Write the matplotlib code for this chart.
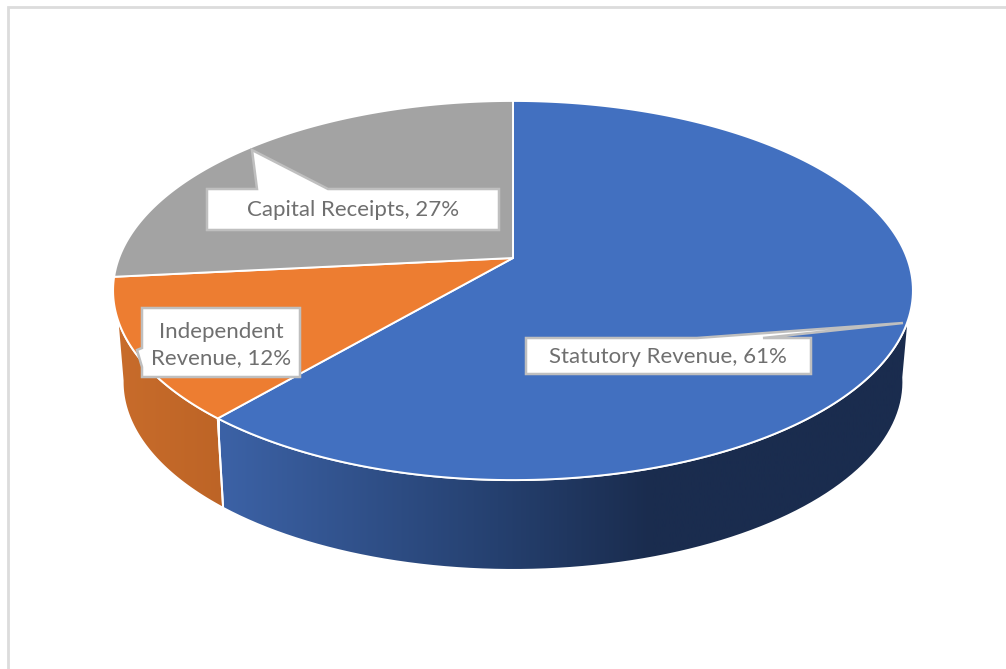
import matplotlib
matplotlib.use('Agg')
import matplotlib.pyplot as plt
import numpy as np
from matplotlib.colors import LinearSegmentedColormap
from matplotlib.patches import Polygon

categories = ['Statutory Revenue', 'Independent\nRevenue', 'Capital Receipts']
values = [61.3, 12.1, 26.6]
colors = ['#4270c0', '#ed7d31', '#a3a3a3']

# projection of the pie disc, pixels
TOP = dict(x0=513, y0=258, a=394, k=184, p=0.1715)
BOT = dict(x0=513, y0=348, a=384, k=182, p=0.18)


def rim(theta, d):
    # theta in degrees, clockwise from 12 o'clock
    t = np.radians(theta)
    u = np.sin(t)
    v = -np.cos(t)
    w = 1 - d['p'] * v
    return np.column_stack((d['x0'] + d['a'] * u / w, d['y0'] + d['k'] * v / w))


fig = plt.figure(figsize=(10.06, 6.69), dpi=100)
ax = fig.add_axes([0, 0, 1, 1])
ax.set_xlim(0, 1006)
ax.set_ylim(669, 0)
ax.axis('off')

# frame of the screenshot
ax.plot([8, 8, 1006], [669, 7, 7], color='#dcdcdc', lw=2.0, solid_joinstyle='miter')

edges = np.concatenate(([0], np.cumsum(values))) * 3.6
blue_end = edges[1]

# side walls, top rim and bottom rim have different silhouette angles
wall_top = (108, 252)
wall_bot = (99, 260)


def wall(t0, t1, b0, b1, cols, xr):
    pts = np.vstack((rim(np.linspace(t0, t1, 80), TOP), rim(np.linspace(b1, b0, 80), BOT)))
    cmap = LinearSegmentedColormap.from_list('w', cols)
    grad = np.linspace(0, 1, 256).reshape(1, -1)
    im = ax.imshow(grad, cmap=cmap, extent=(xr[0], xr[1], 669, 0), aspect='auto', zorder=2)
    poly = Polygon(pts, closed=True, fc='none', ec='white', lw=1.4, zorder=3)
    ax.add_patch(poly)
    im.set_clip_path(poly)


wall(wall_top[0], blue_end, wall_bot[0], blue_end,
     [(0.0, '#3c62a6'), (0.4, '#25406f'), (0.62, '#1a2c4e'), (1.0, '#1a2c4e')], (220, 915))
wall(blue_end, wall_top[1], blue_end, wall_bot[1],
     ['#c86c2b', '#bd6426'], (115, 225))
ax.set_xlim(0, 1006)
ax.set_ylim(669, 0)

# top face
for i in range(len(values)):
    arc = rim(np.linspace(edges[i], edges[i + 1], 200), TOP)
    pts = np.vstack(([[TOP['x0'], TOP['y0']]], arc))
    ax.add_patch(Polygon(pts, closed=True, fc=colors[i], ec='white', lw=1.4,
                         joinstyle='round', zorder=4))

# callout boxes: x0, y0, x1, y1 and the pointer
boxes = [(526, 338, 811, 374), (142, 308, 300, 377), (207, 189, 499, 230)]
pointers = [[(763, 338), (903, 323), (697, 338)],
            [(142, 367), (137, 350), (142, 348)],
            [(257, 189), (252, 150), (328, 189)]]
text_pos = [(668, 357), (221, 345), (353, 210)]

for i in range(len(values)):
    x0, y0, x1, y1 = boxes[i]
    if i == 1:
        pts = [(x0, y0), (x1, y0), (x1, y1), (x0, y1)] + pointers[i]
    elif i == 0:
        pts = [(x0, y0)] + pointers[i][::-1] + [(x1, y0), (x1, y1), (x0, y1)]
    else:
        pts = [(x0, y0)] + pointers[i] + [(x1, y0), (x1, y1), (x0, y1)]
    ax.add_patch(Polygon(pts, closed=True, fc='white', ec='#bfbfbf', lw=1.8,
                         joinstyle='miter', zorder=5))
    ax.text(text_pos[i][0], text_pos[i][1], '%s, %d%%' % (categories[i], round(values[i])),
            ha='center', va='center', ma='center', family='Lato', fontsize=16,
            color='#6f6f6f', linespacing=1.4, zorder=6)

fig.savefig('out.png', dpi=100)
